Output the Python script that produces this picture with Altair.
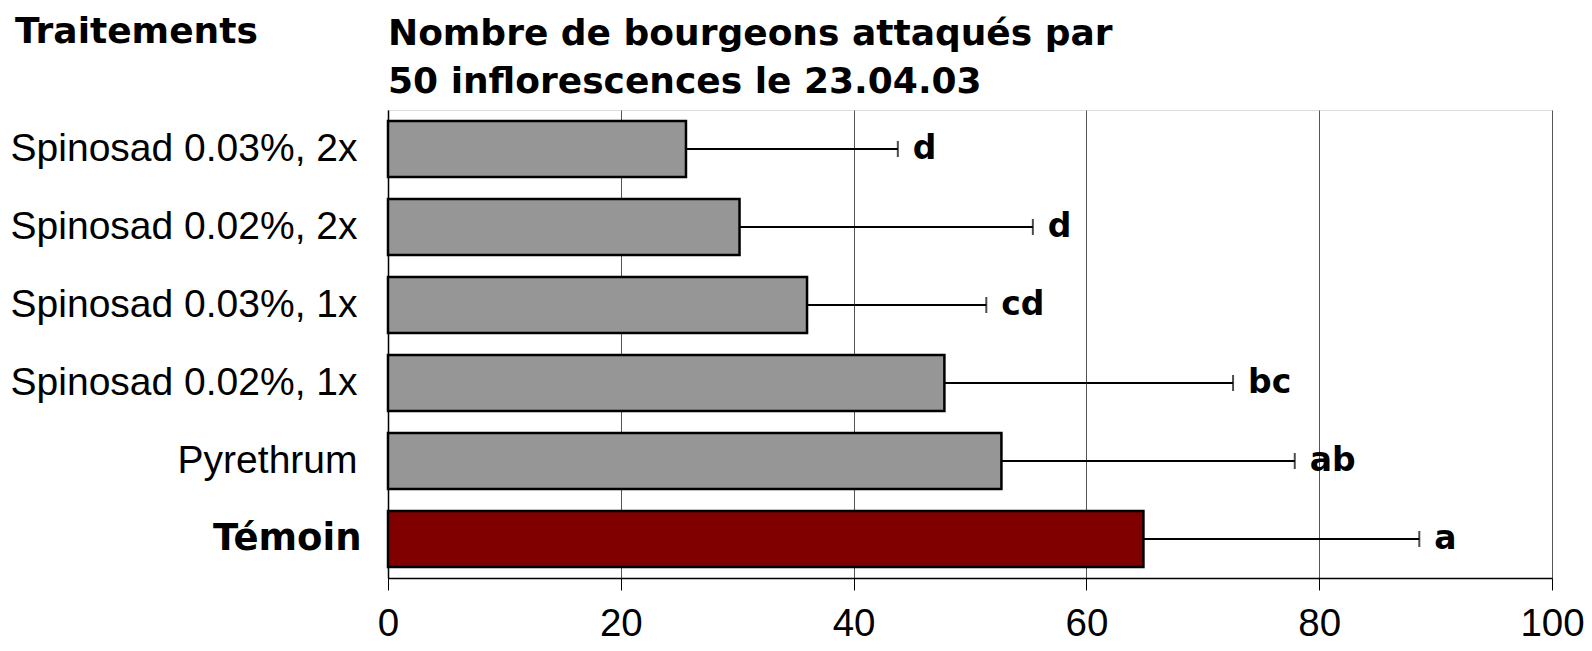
import altair as alt
import pandas as pd

categories = ["Spinosad 0.03%, 2x", "Spinosad 0.02%, 2x", "Spinosad 0.03%, 1x",
              "Spinosad 0.02%, 1x", "Pyrethrum", "Témoin"]
means = [25.6, 30.2, 36.0, 47.8, 52.7, 64.9]
err_upper = [43.8, 55.4, 51.4, 72.6, 77.9, 88.6]
letters = ["d", "d", "cd", "bc", "ab", "a"]
groups = ["traitement"] * 5 + ["témoin"]
x_ticks = [0, 20, 40, 60, 80, 100]
title_lines = ["Nombre de bourgeons attaqués par", "50 inflorescences le 23.04.03"]
y_title = "Traitements"

df = pd.DataFrame({"cat": categories, "mean": means, "err": err_upper,
                   "letter": letters, "grp": groups})
one = pd.DataFrame({"k": [0]})

FONT = "Liberation Sans"
BOLD = "DejaVu Sans"
is_temoin = "datum.value == 'Témoin'"

y_enc = alt.Y(
    "cat:N", sort=categories,
    scale=alt.Scale(paddingInner=0.282, paddingOuter=0.141),
    axis=alt.Axis(
        title=None,
        labelFont={"condition": {"test": is_temoin, "value": BOLD}, "value": FONT},
        labelColor="black", ticks=False,
        labelPadding={"condition": {"test": is_temoin, "value": 27}, "value": 31},
        labelFontSize={"condition": {"test": is_temoin, "value": 37}, "value": 39},
        labelFontWeight={"condition": {"test": is_temoin, "value": "bold"}, "value": "normal"},
        domainColor="black", domainWidth=1.5, grid=False, labelLimit=500,
    ),
)

x_scale = alt.Scale(domain=[0, 100], nice=False)
x_axis = alt.Axis(
    title=None, values=x_ticks, grid=True, gridColor="#555555", gridWidth=1,
    tickColor="black", tickSize=12, tickWidth=1, domainColor="black", domainWidth=1.5,
    labelFont=FONT, labelFontSize=38.5, labelColor="black", labelPadding=15,
    labelFlush=False,
)

bars = alt.Chart(df).mark_bar(stroke="black", strokeWidth=2.5).encode(
    x=alt.X("mean:Q", scale=x_scale, axis=x_axis),
    y=y_enc,
    color=alt.Color("grp:N", scale=alt.Scale(domain=["traitement", "témoin"],
                                             range=["#969696", "#800000"]), legend=None),
)

errline = alt.Chart(df).mark_rule(color="black", strokeWidth=2).encode(
    x=alt.X("mean:Q", scale=x_scale), x2="err:Q", y=alt.Y("cat:N", sort=categories),
)

caps = alt.Chart(df).mark_tick(color="black", thickness=2, size=16).encode(
    x=alt.X("err:Q", scale=x_scale), y=alt.Y("cat:N", sort=categories),
)

labels = alt.Chart(df).mark_text(
    align="left", baseline="middle", dx=15, font=BOLD, fontSize=33, fontWeight="bold", color="black"
).encode(
    x=alt.X("err:Q", scale=x_scale), y=alt.Y("cat:N", sort=categories), text="letter:N",
)

ytitle = alt.Chart(one).mark_text(
    align="left", baseline="alphabetic", font=BOLD, fontSize=36, fontWeight="bold", color="black"
).encode(x=alt.value(-373), y=alt.value(-67), text=alt.value(y_title))

main_title = alt.Chart(one).mark_text(
    align="left", baseline="alphabetic", font=BOLD, fontSize=36, fontWeight="bold",
    color="black", lineHeight=48
).encode(x=alt.value(0), y=alt.value(-65), text=alt.value(title_lines))

chart = alt.layer(errline, bars, caps, labels, ytitle, main_title).properties(
    width=1164, height=468,
    autosize=alt.AutoSizeParams(type="none"),
    padding={"left": 380, "top": 102, "right": 32, "bottom": 62},
).configure_view(stroke=None).configure(background="white")

chart.save("out.html", embed_options={"renderer": "svg", "actions": False})
